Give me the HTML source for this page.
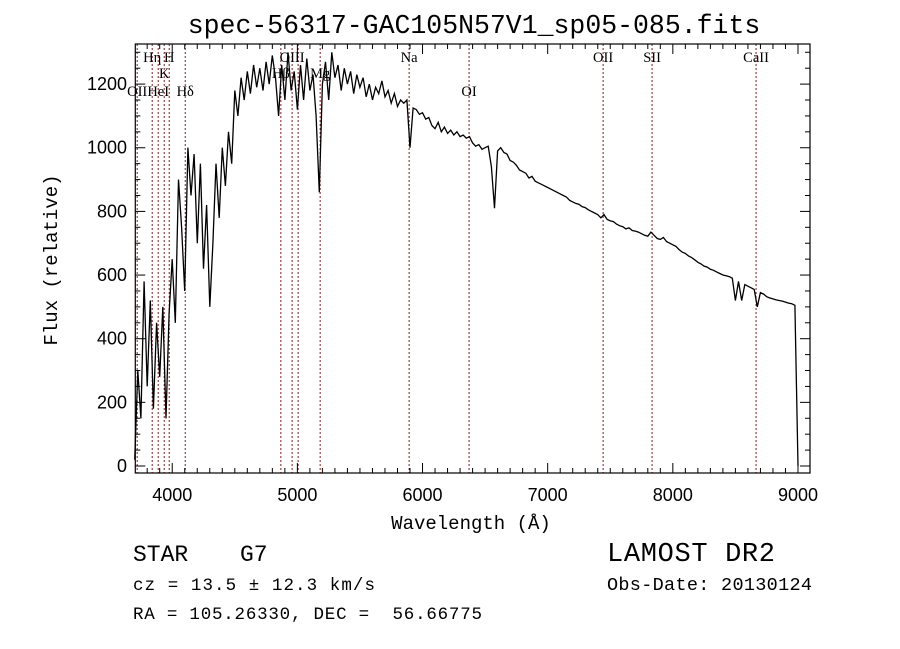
<!DOCTYPE html>
<html><head><meta charset="utf-8"><style>
html,body{margin:0;padding:0;background:#fff;}
svg{display:block;}
text{fill:#000;white-space:pre;}
</style></head><body>
<svg id="chart" width="900" height="649" viewBox="0 0 900 649" xmlns="http://www.w3.org/2000/svg" xml:space="preserve">
<rect x="0" y="0" width="900" height="649" fill="#fff"/>
<text x="474" y="33" text-anchor="middle" font-family="Liberation Mono, monospace" font-size="26.5">spec-56317-GAC105N57V1_sp05-085.fits</text>
<g id="lines"></g>
<g id="spec"></g>
<g id="axes"></g>
<text x="471" y="529" text-anchor="middle" font-family="Liberation Mono, monospace" font-size="19">Wavelength (Å)</text>
<text transform="translate(57,260) rotate(-90)" text-anchor="middle" font-family="Liberation Mono, monospace" font-size="19">Flux (relative)</text>
<text x="133" y="561" font-family="Liberation Mono, monospace" font-size="23">STAR</text>
<text x="240" y="561" font-family="Liberation Mono, monospace" font-size="23">G7</text>
<text x="133" y="590" font-family="Liberation Mono, monospace" font-size="17.5" textLength="242">cz = 13.5 ± 12.3 km/s</text>
<text x="133" y="619" font-family="Liberation Mono, monospace" font-size="17.5" textLength="349">RA = 105.26330, DEC =  56.66775</text>
<text x="607" y="561" font-family="Liberation Mono, monospace" font-size="27" textLength="168">LAMOST DR2</text>
<text x="607" y="590" font-family="Liberation Mono, monospace" font-size="18.5" textLength="205">Obs-Date: 20130124</text>
</svg>
<script>
const fluxStart = 3700;
const fluxStep = 25;
const fluxValues = [20,300,150,580,250,520,180,450,280,500,150,480,650,450,900,750,550,1000,850,980,700,950,620,820,500,700,950,780,1000,880,1050,950,1180,1100,1220,1150,1240,1170,1260,1190,1250,1180,1270,1200,1290,1220,1100,1260,1150,1300,1180,1240,1120,1260,1150,1280,1180,1230,1100,860,1200,1270,1150,1300,1220,1260,1180,1250,1200,1240,1170,1230,1190,1220,1160,1200,1150,1190,1170,1210,1160,1180,1140,1170,1130,1150,1140,1150,1000,1125,1120,1105,1110,1090,1095,1070,1060,1080,1050,1065,1045,1055,1040,1050,1035,1040,1030,1035,1015,1005,1010,995,1000,1005,940,810,990,1000,985,980,960,955,945,930,925,920,905,910,895,890,885,880,875,870,865,860,855,850,845,835,830,825,822,815,812,805,800,795,790,780,790,775,770,768,760,755,752,745,748,740,738,735,730,725,722,735,725,715,712,718,705,700,695,690,680,672,668,660,655,648,640,635,628,625,618,615,610,605,600,598,595,590,520,580,520,570,565,560,555,500,545,540,532,528,525,522,520,518,515,512,510,505,0];
const lineWaves = [3720,3840,3888,3936,3976,4104,4868,4958,5006,5182,5893,6372,7443,7834,8665];
const lineLabels = [["OII",3720,3],["Hη",3840,1],["HeI",3888,3],["K",3936,2],["H",3976,1],["Hδ",4104,3],["Hβ",4868,2],["OIII",4958,1],["Mg",5182,2],["Na",5893,1],["OI",6372,3],["OII",7443,1],["SII",7834,1],["CaII",8665,1]];
const xTicks = [4000,5000,6000,7000,8000,9000];
const yTicks = [0,200,400,600,800,1000,1200];
const X0=135.3, X1=810, Y0=44, Y1=473;
const xmin=3705, xmax=9096, ymin=-22, ymax=1326;
const xs = w => X0 + (w-xmin)/(xmax-xmin)*(X1-X0);
const ys = f => Y1 - (f-ymin)/(ymax-ymin)*(Y1-Y0);
const NS="http://www.w3.org/2000/svg";
function mk(tag, attrs, parent){const e=document.createElementNS(NS,tag);for(const k in attrs)e.setAttribute(k,attrs[k]);parent.appendChild(e);return e;}
const gl=document.getElementById('lines'), gs=document.getElementById('spec'), ga=document.getElementById('axes');
lineWaves.forEach(w=>{
  const l=mk('line',{x1:xs(w),x2:xs(w),y1:Y0,y2:Y1,stroke:'#8b1a1a','stroke-width':1,'stroke-dasharray':'2,2'},gl);
  
  
});
const rowY={1:62,2:78,3:96};
lineLabels.forEach(([t,w,r])=>{
  const e=mk('text',{x:xs(w),y:rowY[r],'text-anchor':'middle','font-family':'Liberation Serif, serif','font-size':14.5},gl);
  e.textContent=t;
  
  
});
const pts=fluxValues.map((f,i)=>xs(fluxStart+i*fluxStep).toFixed(1)+','+ys(f).toFixed(1)).join(' ');
const pl=mk('polyline',{points:pts,fill:'none',stroke:'#000','stroke-width':1.3,'stroke-linejoin':'miter'},gs);


const fr=mk('rect',{x:X0,y:Y0,width:X1-X0,height:Y1-Y0,fill:'none',stroke:'#000','stroke-width':1.2},ga);


for(let w=3800;w<=9000;w+=100){
  const big=w%1000===0, L=big?10:5;
  mk('line',{x1:xs(w),x2:xs(w),y1:Y1,y2:Y1-L,stroke:'#000'},ga);
  mk('line',{x1:xs(w),x2:xs(w),y1:Y0,y2:Y0+L,stroke:'#000'},ga);
}
for(let f=0;f<=1300;f+=50){
  const big=f%200===0, L=big?10:5;
  mk('line',{x1:X0,x2:X0+L,y1:ys(f),y2:ys(f),stroke:'#000'},ga);
  mk('line',{x1:X1,x2:X1-L,y1:ys(f),y2:ys(f),stroke:'#000'},ga);
}
xTicks.forEach(v=>{
  const t=mk('text',{x:xs(v),y:501,'text-anchor':'middle','font-family':'Liberation Sans, sans-serif','font-size':18},ga);
  t.textContent=v;
  
  
});
yTicks.forEach(v=>{
  const t=mk('text',{x:127,y:ys(v)+6,'text-anchor':'end','font-family':'Liberation Sans, sans-serif','font-size':18},ga);
  t.textContent=v;
  
  
});
</script>
</body></html>
